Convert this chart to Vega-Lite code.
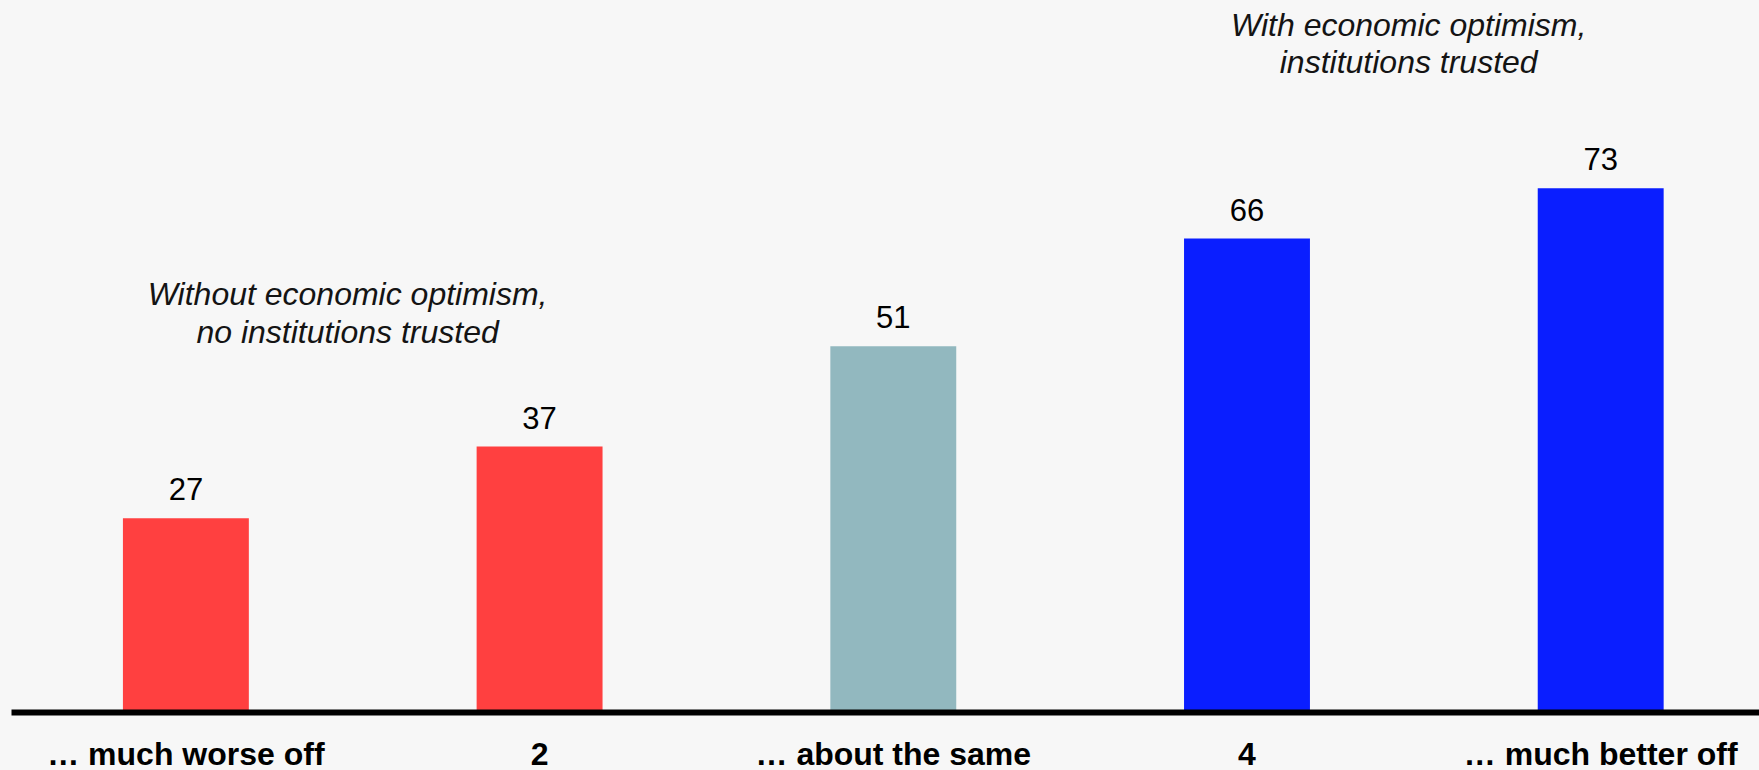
{
  "$schema": "https://vega.github.io/schema/vega-lite/v6.json",
  "width": 1748,
  "height": 712,
  "autosize": {"type": "none"},
  "padding": {"left": 11, "top": 0, "right": 0, "bottom": 58},
  "background": "#f7f7f7",
  "config": {"view": {"stroke": null}, "font": "Liberation Sans"},
  "encoding": {
    "x": {
      "field": "outlook",
      "type": "nominal",
      "sort": null,
      "scale": {
        "domain": ["… much worse off", "2", "… about the same", "4", "… much better off"],
        "paddingInner": 0.644,
        "paddingOuter": 0.293,
        "align": 0.54
      },
      "axis": {
        "title": null,
        "labelAngle": 0,
        "ticks": false,
        "tickSize": 0,
        "grid": false,
        "domainColor": "#000000",
        "domainWidth": 6,
        "domainCap": "butt",
        "labelFont": "Liberation Sans",
        "labelFontSize": 32,
        "labelFontWeight": "bold",
        "labelColor": "#000000",
        "labelBaseline": "alphabetic",
        "labelPadding": 52,
        "labelLimit": 0,
        "zindex": 1
      }
    },
    "y": {
      "field": "pct",
      "type": "quantitative",
      "scale": {"domain": [0, 99.25], "nice": false, "zero": true},
      "axis": null
    }
  },
  "layer": [
    {
      "data": {
        "name": "bars",
        "values": [
          {"outlook": "… much worse off", "pct": 27, "group": "pessimistic"},
          {"outlook": "2", "pct": 37, "group": "pessimistic"},
          {"outlook": "… about the same", "pct": 51, "group": "neutral"},
          {"outlook": "4", "pct": 66, "group": "optimistic"},
          {"outlook": "… much better off", "pct": 73, "group": "optimistic"}
        ]
      },
      "layer": [
        {
          "mark": {"type": "bar"},
          "encoding": {
            "color": {
              "field": "group",
              "type": "nominal",
              "scale": {
                "domain": ["pessimistic", "neutral", "optimistic"],
                "range": ["#ff4040", "#92b8bf", "#0a1eff"]
              },
              "legend": null
            }
          }
        },
        {
          "mark": {
            "type": "text",
            "baseline": "alphabetic",
            "align": "center",
            "dy": -18,
            "fontSize": 31,
            "font": "Liberation Sans",
            "color": "#000000"
          },
          "encoding": {
            "text": {"field": "pct", "type": "quantitative"}
          }
        }
      ]
    },
    {
      "data": {
        "name": "notes",
        "values": [
          {"outlook": "2", "pct": 56.7, "note": "Without economic optimism,\nno institutions trusted"},
          {"outlook": "… much better off", "pct": 94.3, "note": "With economic optimism,\ninstitutions trusted"}
        ]
      },
      "mark": {
        "type": "text",
        "baseline": "alphabetic",
        "align": "center",
        "dx": -192,
        "lineBreak": "\n",
        "lineHeight": 37.7,
        "fontSize": 32,
        "fontStyle": "italic",
        "font": "Liberation Sans",
        "color": "#141414"
      },
      "encoding": {
        "text": {"field": "note", "type": "nominal"}
      }
    }
  ]
}
